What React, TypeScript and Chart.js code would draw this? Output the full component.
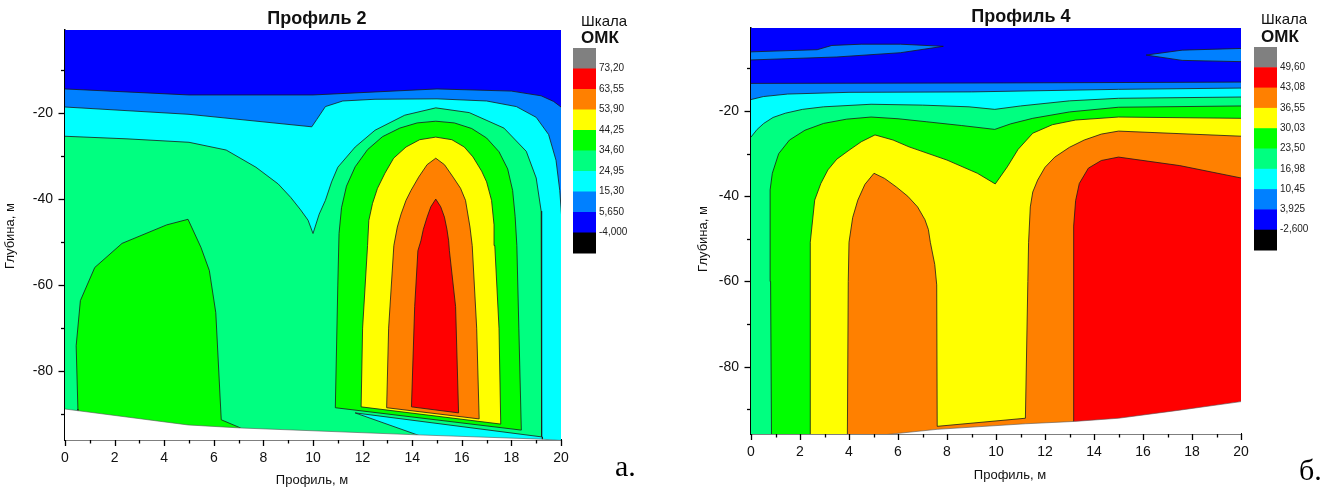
import React, { useEffect, useRef } from 'react';
import { Chart, registerables } from 'chart.js';

Chart.register(...registerables);

type Pt = [number, number];

// ---------- palette (Origin-style contour fills) ----------
const C_GRAY = '#808080';
const C_RED = '#ff0000';
const C_ORANGE = '#ff8000';
const C_YELLOW = '#ffff00';
const C_GREEN = '#00ff00';
const C_SPRING = '#00ff80';
const C_CYAN = '#00ffff';
const C_AZURE = '#0080ff';
const C_BLUE = '#0000ff';
const C_BLACK = '#000000';

// ---------- axes ----------
const X_TICK_LABELS = [0, 2, 4, 6, 8, 10, 12, 14, 16, 18, 20];
const Y_TICK_LABELS = [-20, -40, -60, -80];

// ---------- colour scales ----------
const SCALE_COLORS = [C_GRAY, C_RED, C_ORANGE, C_YELLOW, C_GREEN, C_SPRING, C_CYAN, C_AZURE, C_BLUE, C_BLACK];
const P2_SCALE_LABELS = ['73,20', '63,55', '53,90', '44,25', '34,60', '24,95', '15,30', '5,650', '-4,000'];
const P4_SCALE_LABELS = ['49,60', '43,08', '36,55', '30,03', '23,50', '16,98', '10,45', '3,925', '-2,600'];

// ---------- Профиль 2 : contour regions [profile m, depth m] ----------
const P2_BLUE: Pt[] = [[-1, 1], [21, 1], [21, -100], [-1, -100]];
const P2_AZURE: Pt[] = [[-1, -14.4], [0, -14.4], [5, -15.8], [10, -15.8], [15, -14.4], [18, -14.9], [19.2, -16.0], [19.7, -17.3], [20, -18.6], [21, -20], [21, -100], [-1, -100]];
const P2_CYAN: Pt[] = [[-1, -18.6], [0, -18.6], [5, -20.3], [9.95, -23.2], [10.15, -21.5], [10.5, -18.5], [11.2, -17.2], [12.5, -16.8], [15, -16.7], [17, -17.2], [18.2, -18.5], [19, -21], [19.5, -25], [19.8, -31], [19.95, -38], [20.05, -46], [21, -52], [21, -100], [-1, -100]];
const P2_SPRING: Pt[] = [[-1, -25.4], [0, -25.4], [2.5, -26], [5, -26.8], [6.5, -28.6], [7.7, -32.6], [8.6, -36.5], [9.1, -39.6], [9.5, -42.5], [9.8, -44.9], [10.0, -48], [10.25, -43.5], [10.5, -40.3], [10.75, -36], [11.0, -32.6], [11.7, -27.9], [12.5, -24], [13.7, -20.5], [14.95, -18.8], [16.3, -19.9], [17.7, -23.5], [18.6, -28.9], [19.0, -35.1], [19.2, -42.8], [19.22, -60], [19.22, -100], [-1, -100]];
const P2_CYAN_WEDGE: Pt[] = [[11.7, -89.7], [19.25, -95.3], [19.25, -100], [16.75, -100]];
const P2_GREEN_ARCH: Pt[] = [[14.95, -21.9], [14.2, -22.3], [13.5, -23.5], [12.8, -25.5], [12.2, -28.5], [11.7, -32.5], [11.35, -37], [11.15, -42], [11.05, -48], [11.0, -60], [10.9, -88.5], [18.4, -93.7], [18.3, -70], [18.22, -50.8], [18.15, -44], [18.05, -38], [17.85, -33], [17.5, -29], [17.0, -25.8], [16.4, -23.6], [15.7, -22.3]];
const P2_GREEN_LEFT: Pt[] = [[4.96, -44.7], [4.1, -46], [2.3, -50.3], [1.2, -55.9], [0.62, -63.6], [0.45, -74.1], [0.52, -88.8], [0.52, -100], [7.5, -100], [7.08, -93.2], [6.3, -91.3], [6.08, -66.4], [5.82, -56.6], [5.48, -51.2]];
const P2_YELLOW: Pt[] = [[14.95, -25.6], [14.3, -26.2], [13.75, -27.9], [13.25, -30.5], [12.9, -34], [12.6, -37.5], [12.4, -41], [12.25, -45], [12.2, -50.8], [12.0, -70], [11.94, -88.3], [17.57, -92.3], [17.5, -70], [17.33, -50.8], [17.3, -46], [17.2, -40.3], [17.0, -36], [16.8, -33.5], [16.45, -30.2], [16.1, -27.9], [15.6, -26.2]];
const P2_ORANGE: Pt[] = [[14.95, -30.5], [14.6, -32], [14.26, -34.9], [13.95, -38], [13.75, -40.3], [13.55, -43.5], [13.4, -46.5], [13.26, -50.8], [13.05, -70], [12.97, -88.5], [16.7, -91.1], [16.6, -70], [16.42, -50.8], [16.33, -46.5], [16.15, -40.3], [15.95, -37.5], [15.65, -34.9], [15.3, -32]];
const P2_RED: Pt[] = [[14.95, -40.0], [14.75, -41.8], [14.6, -44.2], [14.45, -47], [14.35, -49.7], [14.23, -52], [14.1, -65], [13.97, -88.3], [15.87, -89.7], [15.75, -65], [15.5, -52], [15.47, -49.7], [15.4, -47], [15.3, -44.2], [15.15, -41.8]];
const P2_OUTSIDE: Pt[] = [[-1, -88.8], [0, -88.8], [4.96, -92.5], [7.08, -93.2], [14.2, -94.8], [19.2, -95.8], [20, -96.1], [21, -96.5], [21, -101], [-1, -101]];

// ---------- Профиль 4 : contour regions ----------
const P4_BLUE: Pt[] = [[-1, 1], [21, 1], [21, -100], [-1, -100]];
const P4_AZURE_LENS_L: Pt[] = [[-1, -6.1], [0, -6.1], [2.7, -5.6], [3.3, -4.6], [4.5, -4.3], [6.1, -4.3], [7.85, -4.8], [6.1, -6.3], [3.5, -7.3], [0, -8.0], [-1, -8.0]];
const P4_AZURE_LENS_R: Pt[] = [[16.13, -6.85], [17.6, -5.7], [20, -5.3], [21, -5.3], [21, -8.4], [20, -8.4], [17.6, -8.1]];
const P4_AZURE: Pt[] = [[-1, -13.5], [0, -13.5], [10, -13.4], [20, -13.2], [21, -13.2], [21, -100], [-1, -100]];
const P4_CYAN: Pt[] = [[-1, -17.3], [0, -17.3], [0.5, -16.6], [1.5, -16.0], [4, -15.6], [9, -15.5], [15, -14.9], [20, -14.6], [21, -14.6], [21, -100], [-1, -100]];
const P4_SPRING: Pt[] = [[-1, -26.1], [0, -26.1], [0.25, -24.3], [0.52, -22.9], [0.9, -21.5], [1.4, -20.5], [2.1, -19.6], [2.96, -19.0], [4.9, -18.4], [7, -18.6], [8.9, -19.0], [9.95, -19.6], [11, -18.8], [13, -17.6], [15, -17.0], [20, -16.7], [21, -16.7], [21, -100], [-1, -100]];
const P4_GREEN: Pt[] = [[0.84, -100], [0.8, -60], [0.78, -38.5], [0.87, -34.6], [1.13, -30], [1.57, -26.8], [2.2, -24.5], [2.96, -22.9], [3.9, -21.9], [4.9, -21.4], [6, -21.8], [7.15, -22.5], [8.6, -23.4], [9.95, -24.3], [10.6, -23], [11.5, -21.7], [13, -20.2], [15, -19.1], [20, -18.8], [21, -18.8], [21, -100]];
const P4_YELLOW: Pt[] = [[2.42, -100], [2.42, -50.8], [2.6, -40.9], [2.85, -37], [3.14, -33.8], [3.5, -31.3], [4.0, -29.2], [4.5, -27.2], [5.06, -25.6], [5.8, -26.8], [6.45, -28.4], [8.0, -31.5], [9.24, -34.6], [9.97, -37.1], [10.46, -33.1], [10.9, -29], [11.5, -25.2], [12.3, -23.2], [13.25, -22.1], [15, -21.4], [20, -21.7], [21, -21.7], [21, -100]];
const P4_ORANGE: Pt[] = [[3.93, -100], [3.97, -60], [4.0, -50.8], [4.15, -45], [4.36, -40.9], [4.65, -37.2], [5.02, -34.6], [5.45, -35.8], [5.93, -37.8], [6.4, -40], [6.8, -42.5], [7.1, -45.5], [7.24, -47.8], [7.32, -50.8], [7.5, -56], [7.58, -60.8], [7.6, -94.0], [11.2, -92.1], [11.3, -60], [11.33, -50.8], [11.4, -42.5], [11.5, -39], [11.7, -36.2], [12, -33.2], [12.4, -30.8], [13, -28.5], [13.6, -26.8], [14.3, -25.4], [15, -24.7], [20, -25.9], [21, -26], [21, -100]];
const P4_RED: Pt[] = [[13.15, -100], [13.16, -60], [13.18, -47], [13.25, -41], [13.4, -37], [13.77, -33.4], [14.3, -31.6], [15, -30.8], [17.5, -32.8], [20, -35.7], [21, -36.5], [21, -100]];
const P4_OUTSIDE: Pt[] = [[3, -96.5], [5.5, -95.95], [7.6, -94.7], [11.2, -93.4], [13.2, -92.85], [15, -92.1], [17.5, -90.2], [20, -88.2], [21, -87.4], [21, -101], [3, -101]];

interface Layer { color: string; pts: Pt[]; bw?: number; line?: string }

interface PanelSpec {
  left: number;
  width: number;
  padding: { left: number; right: number; top: number; bottom: number };
  yMin: number;
  yMax: number;
  layers: Layer[];
  title: string;
  titleX: number;
  titleY: number;
  xTitleX: number;
  xTitleY: number;
  yTitleX: number;
  yTitleY: number;
  barX: number;
  barTop: number;
  barW: number;
  barH: number;
  scaleLabels: string[];
  scaleTextX: number;
  scaleWordY: number;
  scaleNameY: number;
  letter: string;
  letterX: number;
  letterY: number;
}

const FONT = '"Liberation Sans", Arial, sans-serif';

const PANEL2: PanelSpec = {
  left: 0,
  width: 670,
  padding: { left: 20, right: 109, top: 30, bottom: 20 },
  yMin: -96,
  yMax: -0.7,
  layers: [
    { color: C_BLUE, pts: P2_BLUE, bw: 0 },
    { color: C_AZURE, pts: P2_AZURE },
    { color: C_CYAN, pts: P2_CYAN },
    { color: C_SPRING, pts: P2_SPRING },
    { color: C_CYAN, pts: P2_CYAN_WEDGE },
    { color: C_GREEN, pts: P2_GREEN_ARCH },
    { color: C_GREEN, pts: P2_GREEN_LEFT },
    { color: C_YELLOW, pts: P2_YELLOW },
    { color: C_ORANGE, pts: P2_ORANGE },
    { color: C_RED, pts: P2_RED },
    { color: '#ffffff', pts: P2_OUTSIDE, line: '#555555', bw: 0.6 },
  ],
  title: 'Профиль 2',
  titleX: 317,
  titleY: 24,
  xTitleX: 312,
  xTitleY: 484,
  yTitleX: 10,
  yTitleY: 236,
  barX: 573,
  barTop: 48,
  barW: 23,
  barH: 20.5,
  scaleLabels: P2_SCALE_LABELS,
  scaleTextX: 581,
  scaleWordY: 26,
  scaleNameY: 43,
  letter: 'а.',
  letterX: 615,
  letterY: 476,
};

const PANEL4: PanelSpec = {
  left: 670,
  width: 671,
  padding: { left: 36, right: 100, top: 28, bottom: 26 },
  yMin: -95.8,
  yMax: -0.5,
  layers: [
    { color: C_BLUE, pts: P4_BLUE, bw: 0 },
    { color: C_AZURE, pts: P4_AZURE_LENS_L },
    { color: C_AZURE, pts: P4_AZURE_LENS_R },
    { color: C_AZURE, pts: P4_AZURE },
    { color: C_CYAN, pts: P4_CYAN },
    { color: C_SPRING, pts: P4_SPRING },
    { color: C_GREEN, pts: P4_GREEN },
    { color: C_YELLOW, pts: P4_YELLOW },
    { color: C_ORANGE, pts: P4_ORANGE },
    { color: C_RED, pts: P4_RED },
    { color: '#ffffff', pts: P4_OUTSIDE, line: '#555555', bw: 0.6 },
  ],
  title: 'Профиль 4',
  titleX: 351,
  titleY: 22,
  xTitleX: 340,
  xTitleY: 479,
  yTitleX: 33,
  yTitleY: 239,
  barX: 584,
  barTop: 47,
  barW: 23,
  barH: 20.3,
  scaleLabels: P4_SCALE_LABELS,
  scaleTextX: 591,
  scaleWordY: 24,
  scaleNameY: 42,
  letter: 'б.',
  letterX: 629,
  letterY: 480,
};

function decorPlugin(spec: PanelSpec) {
  return {
    id: 'decor',
    afterDraw(chart: any) {
      const { ctx, chartArea } = chart;
      const xs = chart.scales.x;
      const ys = chart.scales.y;
      ctx.save();
      // tick marks (major / minor)
      ctx.strokeStyle = '#000';
      ctx.lineWidth = 1.3;
      for (const t of xs.ticks) {
        const px = Math.round(xs.getPixelForValue(t.value)) + 0.5;
        const major = X_TICK_LABELS.includes(t.value);
        ctx.beginPath();
        ctx.moveTo(px, chartArea.bottom);
        ctx.lineTo(px, chartArea.bottom + (major ? 6 : 3.5));
        ctx.stroke();
      }
      for (const t of ys.ticks) {
        const py = Math.round(ys.getPixelForValue(t.value)) + 0.5;
        const major = Y_TICK_LABELS.includes(t.value);
        ctx.beginPath();
        ctx.moveTo(chartArea.left, py);
        ctx.lineTo(chartArea.left - (major ? 6.5 : 4), py);
        ctx.stroke();
      }
      // title
      ctx.fillStyle = '#111';
      ctx.textAlign = 'center';
      ctx.textBaseline = 'alphabetic';
      ctx.font = `bold 18px ${FONT}`;
      ctx.fillText(spec.title, spec.titleX, spec.titleY);
      // axis titles
      ctx.font = `13px ${FONT}`;
      ctx.fillText('Профиль, м', spec.xTitleX, spec.xTitleY);
      ctx.save();
      ctx.translate(spec.yTitleX, spec.yTitleY);
      ctx.rotate(-Math.PI / 2);
      ctx.textBaseline = 'middle';
      ctx.fillText('Глубина, м', 0, 0);
      ctx.restore();
      // colour scale
      SCALE_COLORS.forEach((c, i) => {
        ctx.fillStyle = c;
        ctx.fillRect(spec.barX, spec.barTop + i * spec.barH, spec.barW, spec.barH + 0.5);
      });
      ctx.fillStyle = '#222';
      ctx.textAlign = 'left';
      ctx.textBaseline = 'middle';
      ctx.font = `10px ${FONT}`;
      spec.scaleLabels.forEach((s, i) => {
        ctx.fillText(s, spec.barX + spec.barW + 3, spec.barTop + (i + 1) * spec.barH);
      });
      ctx.textBaseline = 'alphabetic';
      ctx.fillStyle = '#111';
      ctx.font = `15px ${FONT}`;
      ctx.fillText('Шкала', spec.scaleTextX, spec.scaleWordY);
      ctx.font = `bold 17px ${FONT}`;
      ctx.fillText('ОМК', spec.scaleTextX, spec.scaleNameY);
      // panel letter
      ctx.fillStyle = '#000';
      ctx.font = `30px "Liberation Serif", "Times New Roman", serif`;
      ctx.fillText(spec.letter, spec.letterX, spec.letterY);
      ctx.restore();
    },
  };
}

function makeChart(canvas: HTMLCanvasElement, spec: PanelSpec) {
  const n = spec.layers.length;
  return new Chart(canvas, {
    type: 'line',
    data: {
      datasets: spec.layers.map((l, i) => ({
        data: [...l.pts, l.pts[0]].map(([x, y]) => ({ x, y })),
        fill: 'shape',
        backgroundColor: l.color,
        borderColor: l.line ?? '#1a1a1a',
        borderWidth: l.bw ?? 0.8,
        pointRadius: 0,
        pointHoverRadius: 0,
        tension: 0,
        borderJoinStyle: 'round',
        order: n - i,
      })) as any,
    },
    options: {
      animation: false,
      responsive: false,
      events: [],
      layout: { padding: spec.padding },
      plugins: {
        legend: { display: false },
        tooltip: { enabled: false },
        title: { display: false },
      },
      scales: {
        x: {
          type: 'linear',
          min: 0,
          max: 20,
          afterFit: (s: any) => { s.height = 30; },
          border: { display: true, color: '#000', width: 1.5 },
          grid: { drawOnChartArea: false, drawTicks: true, tickLength: 6, color: 'rgba(0,0,0,0)', tickColor: 'rgba(0,0,0,0)' },
          ticks: {
            stepSize: 1,
            autoSkip: false,
            maxRotation: 0,
            padding: 4,
            color: '#111',
            font: { family: FONT, size: 14 },
            callback: (v: any) => (X_TICK_LABELS.includes(v) ? String(v) : ''),
          },
        },
        y: {
          type: 'linear',
          min: spec.yMin,
          max: spec.yMax,
          afterFit: (s: any) => { s.width = 45; },
          border: { display: true, color: '#000', width: 1.5 },
          grid: { drawOnChartArea: false, drawTicks: true, tickLength: 6, color: 'rgba(0,0,0,0)', tickColor: 'rgba(0,0,0,0)' },
          ticks: {
            stepSize: 10,
            includeBounds: false,
            autoSkip: false,
            padding: 6,
            color: '#111',
            font: { family: FONT, size: 14 },
            callback: (v: any) => (Y_TICK_LABELS.includes(v) ? String(v) : ''),
          },
        },
      },
    } as any,
    plugins: [decorPlugin(spec)],
  });
}

function ContourPanel({ spec }: { spec: PanelSpec }) {
  const ref = useRef<HTMLCanvasElement>(null);
  useEffect(() => {
    const chart = makeChart(ref.current as HTMLCanvasElement, spec);
    return () => chart.destroy();
  }, [spec]);
  return (
    <canvas
      ref={ref}
      width={spec.width}
      height={490}
      style={{ position: 'absolute', left: spec.left, top: 0, width: spec.width, height: 490 }}
    />
  );
}

export default function App() {
  return (
    <div style={{ position: 'absolute', left: 0, top: 0, width: 1341, height: 490, background: '#ffffff', overflow: 'hidden' }}>
      <ContourPanel spec={PANEL2} />
      <ContourPanel spec={PANEL4} />
    </div>
  );
}
